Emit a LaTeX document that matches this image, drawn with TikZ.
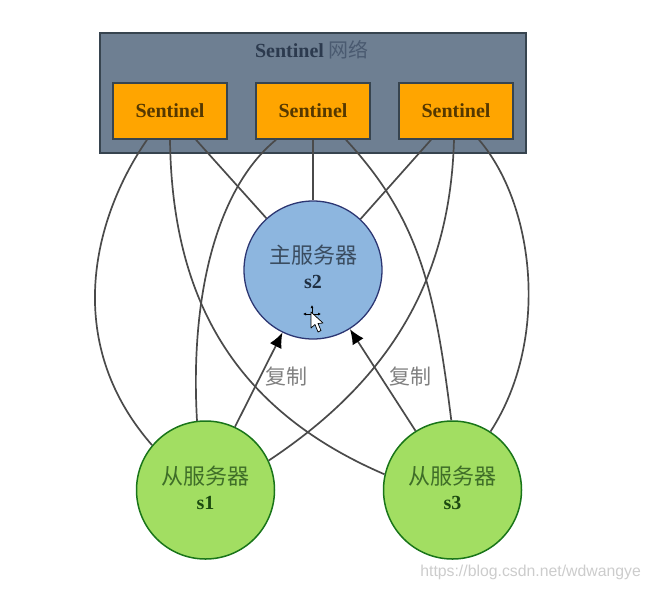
\documentclass[tikz,border=0pt]{standalone}
\usepackage{fontspec}
\setmainfont{Liberation Serif}
\newfontfamily\cjk{Noto Sans CJK SC}
\usetikzlibrary{arrows.meta}
\definecolor{panelc}{HTML}{6E7F92}
\definecolor{orangec}{HTML}{FFA500}
\definecolor{bluec}{HTML}{8DB6DF}
\definecolor{greenc}{HTML}{A2DE62}
\definecolor{linec}{HTML}{4A4A4A}
\definecolor{edgec}{HTML}{37444F}
\definecolor{titlec}{HTML}{2C3A4E}
\definecolor{titlecjk}{HTML}{4A5A70}
\definecolor{senttext}{HTML}{553800}
\definecolor{bluetext}{HTML}{3A4C60}
\definecolor{bluebold}{HTML}{1F2F42}
\definecolor{greentext}{HTML}{3F6E28}
\definecolor{greenbold}{HTML}{1C4A10}
\tikzset{
  x=1pt,y=-1pt,
  panel/.style={draw=edgec,line width=1.4pt,fill=panelc,minimum width=426pt,minimum height=120pt,inner sep=0pt},
  sentbox/.style={draw=edgec,line width=1.6pt,fill=orangec,minimum width=114pt,minimum height=56pt,inner sep=0pt,text=senttext,font=\fontsize{20}{22}\selectfont\bfseries},
  master/.style={circle,draw=edgec!80!blue,line width=1.3pt,fill=bluec,minimum size=138pt,inner sep=0pt,align=center,text=bluetext,font=\fontsize{22}{26}\selectfont},
  slave/.style={circle,draw=black!55!green!80!gray,line width=1.5pt,fill=greenc,minimum size=138pt,inner sep=0pt,align=center,text=greentext,font=\fontsize{22}{26}\selectfont},
  link/.style={draw=linec,line width=1.7pt},
  repl/.style={link,-{Latex[length=15pt,width=13pt,black]}},
  lbl/.style={inner sep=0pt,text=black!50,font=\fontsize{21}{24}\selectfont\cjk},
}
\begin{document}
\begin{tikzpicture}
\useasboundingbox (0,0) rectangle (650,590);
\node[panel] (net) at (313,93) {};
\node[inner sep=0pt,text=titlec,font=\fontsize{20}{22}\selectfont\bfseries] (nettitle) at (312,50) {Sentinel {\cjk\mdseries\color{titlecjk}网络}};
\node[sentbox] (a) at (170,111) {Sentinel};
\node[sentbox] (b) at (313,111) {Sentinel};
\node[sentbox] (c) at (456,111) {Sentinel};
\node[master] (s2) at (313,270) {{\cjk 主服务器}\\[-1pt]{\color{bluebold}\fontsize{20}{22}\selectfont\bfseries s2}\rule[-6pt]{0pt}{6pt}};
\node[slave] (s1) at (205.5,490) {{\cjk 从服务器}\\[-1pt]{\color{greenbold}\fontsize{20}{22}\selectfont\bfseries s1}\rule[-5pt]{0pt}{5pt}};
\node[slave] (s3) at (452.5,490) {{\cjk 从服务器}\\[-1pt]{\color{greenbold}\fontsize{20}{22}\selectfont\bfseries s3}\rule[-5pt]{0pt}{5pt}};
% connectors from Sentinels
\draw[link] ([xshift=-23pt]a.south) .. controls (95,215) and (60,340) .. (s1.140);
\draw[link] (a.south) .. controls (172,300) and (235,410) .. (s3.167);
\draw[link] ([xshift=26pt]a.south) -- (s2.132);
\draw[link] ([xshift=-37pt]b.south) .. controls (215,190) and (190,300) .. (s1.97);
\draw[link] (b.south) -- (s2.north);
\draw[link] ([xshift=33pt]b.south) .. controls (420,220) and (435,290) .. (s3.91);
\draw[link] ([xshift=-25pt]c.south) -- (s2.47);
\draw[link] ([xshift=-2pt]c.south) .. controls (450,280) and (390,380) .. (s1.25);
\draw[link] ([xshift=23pt]c.south) .. controls (535,205) and (550,340) .. (s3.57);
% replication
\draw[repl] (s1.65) -- (s2.244);
\draw[repl] (s3.122) -- (s2.302.6);
\node[lbl] (r1) at (286,377) {复制};
\node[lbl] (r2) at (410,377) {复制};
% pointer
\draw[black,line width=.8pt,{Latex[length=3pt,width=3pt]}-{Latex[length=3pt,width=3pt]}] (312,305) -- (312,322);
\draw[black,line width=.8pt,{Latex[length=3pt,width=3pt]}-{Latex[length=3pt,width=3pt]}] (303,314) -- (321,314);
\draw[fill=white,draw=black,line width=.7pt,line join=round] (311,312) -- (311,328) -- (315,324.5) -- (318,332) -- (321,330.5) -- (318,323.5) -- (323,323) -- cycle;
% watermark
\node[inner sep=0pt,anchor=east,text=black!20,font=\fontsize{15.8}{18}\selectfont\fontspec{Liberation Sans}] (wm) at (641,572) {https://blog.csdn.net/wdwangye};
\end{tikzpicture}
\end{document}
